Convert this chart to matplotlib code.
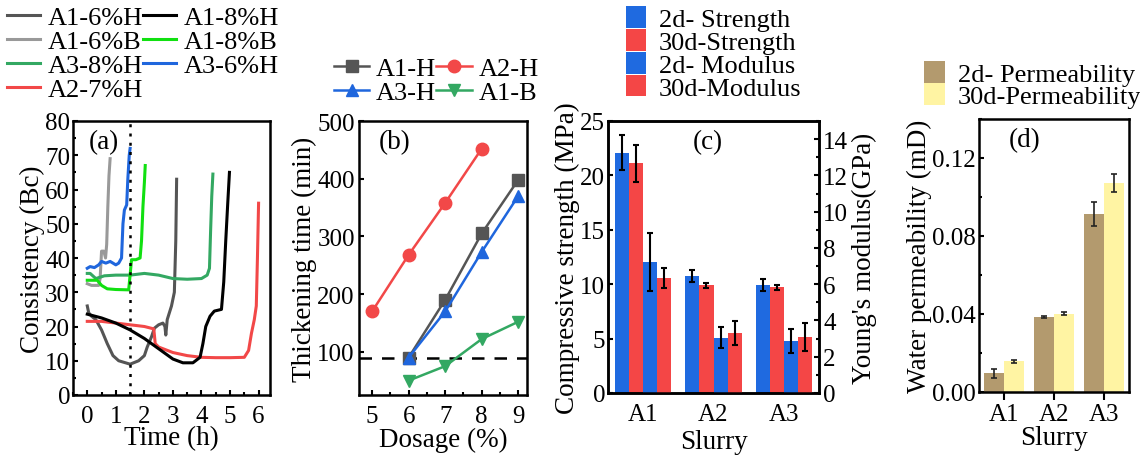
import matplotlib
matplotlib.use("Agg")
import matplotlib.pyplot as plt
from matplotlib.ticker import MultipleLocator, FormatStrFormatter
import numpy as np

plt.rcParams['font.family'] = ['Liberation Serif', 'DejaVu Serif']
plt.rcParams['font.size'] = 18
plt.rcParams['axes.linewidth'] = 1.8

FS_LAB = 19.5
FS_LEG = 19

# ---- (a) consistency curves: (time h, Bc)
a1_6h_t = [0, 0.05, 0.15, 0.3, 0.5, 0.7, 0.9, 1.1, 1.3, 1.5, 1.65, 1.8, 2.0, 2.1, 2.25, 2.35, 2.5, 2.65, 2.72, 2.75, 2.8, 2.95, 3.05, 3.1, 3.13]
a1_6h_y = [26, 24, 23, 22, 19, 15, 11.5, 10, 9.5, 9, 9.5, 10, 11.5, 14, 17, 19.5, 20.5, 21, 20, 17.5, 22, 26, 30, 45, 63]
a1_8h_t = [0, 0.5, 1.0, 1.5, 2.0, 2.5, 3.0, 3.35, 3.7, 3.95, 4.05, 4.15, 4.3, 4.45, 4.7, 4.78, 4.85, 4.92, 4.98]
a1_8h_y = [23.6, 22.5, 21, 19, 16.5, 13.5, 10.5, 9.4, 9.4, 11, 15, 20, 23, 24.5, 25, 33, 45, 56, 65]
a1_6b_t = [0, 0.15, 0.4, 0.45, 0.5, 0.58, 0.64, 0.68, 0.72, 0.76, 0.8]
a1_6b_y = [32.5, 32, 32, 34, 42, 42, 40, 44, 55, 64, 69]
a1_8b_t = [0, 0.35, 0.5, 0.7, 1.0, 1.45, 1.5, 1.55, 1.7, 1.85, 1.9, 1.95, 2.0, 2.03]
a1_8b_y = [33.5, 33.5, 32, 31, 30.8, 30.7, 35, 39.5, 39.5, 40, 45, 55, 62, 67]
a3_8h_t = [0, 0.1, 0.3, 0.6, 1.0, 1.5, 2.0, 2.5, 3.0, 3.5, 4.0, 4.2, 4.28, 4.32, 4.36, 4.4]
a3_8h_y = [35.5, 35.5, 34, 34.8, 35, 35, 35.5, 35, 34, 33.8, 34, 35, 37, 48, 58, 64.5]
a3_6h_t = [0, 0.1, 0.25, 0.4, 0.5, 0.65, 0.8, 1.0, 1.1, 1.2, 1.25, 1.3, 1.38, 1.42, 1.47, 1.5]
a3_6h_y = [37, 37.5, 37.2, 38, 39, 38.5, 39, 38, 38.5, 40, 50, 54, 55.5, 63, 70, 72]
a2_7h_t = [0, 0.5, 1.0, 1.5, 2.0, 2.33, 2.38, 2.5, 3.0, 3.5, 4.0, 4.5, 5.0, 5.5, 5.65, 5.75, 5.85, 5.92, 5.96, 6.0]
a2_7h_y = [21.5, 21.5, 21, 20.5, 20, 19.3, 15, 14, 12.4, 11.5, 11, 10.9, 10.9, 11, 13, 18, 22, 26, 40, 56]

# ---- (b) thickening time
dosage = [5, 6, 7, 8, 9]
b_a1h = [np.nan, 90, 190, 305, 398]
b_a2h = [170, 268, 358, 452, np.nan]
b_a3h = [np.nan, 90, 170, 273, 370]
b_a1b = [np.nan, 50, 75, 122, 152]
b_limit = 90

# ---- (c) strength / modulus
slurry = ['A1', 'A2', 'A3']
str_2d = [22.1, 10.75, 9.95]
str_2d_err = [1.6, 0.55, 0.55]
str_30d = [21.1, 9.9, 9.7]
str_30d_err = [1.7, 0.25, 0.2]
mod_2d = [7.2, 3.06, 2.88]
mod_2d_err = [1.6, 0.57, 0.66]
mod_30d = [6.33, 3.3, 3.09]
mod_30d_err = [0.54, 0.66, 0.75]

# ---- (d) permeability
perm_2d = [0.0095, 0.0383, 0.0913]
perm_2d_err = [0.0025, 0.0005, 0.006]
perm_30d = [0.0157, 0.0402, 0.1073]
perm_30d_err = [0.0007, 0.0007, 0.0045]

W, H = 1140, 456
fig = plt.figure(figsize=(W / 100, H / 100), dpi=100)

def box(l, r, t, b):
    return [l / W, 1 - b / H, (r - l) / W, (b - t) / H]

# ================= (a)
ax1 = fig.add_axes(box(73, 270, 122, 396))
curves = [
    (a1_6h_t, a1_6h_y, '#555555', 'A1-6%H'),
    (a1_6b_t, a1_6b_y, '#999999', 'A1-6%B'),
    (a3_8h_t, a3_8h_y, '#33a862', 'A3-8%H'),
    (a2_7h_t, a2_7h_y, '#f24848', 'A2-7%H'),
    (a1_8h_t, a1_8h_y, '#000000', 'A1-8%H'),
    (a1_8b_t, a1_8b_y, '#11e011', 'A1-8%B'),
    (a3_6h_t, a3_6h_y, '#1f66dd', 'A3-6%H'),
]
for t, y, c, lab in curves:
    ax1.plot(t, y, color=c, lw=2.2, label=lab)
ax1.axvline(1.5, color='black', ls=(0, (1.2, 2.5)), lw=1.8)
ax1.set_xlim(-0.5, 6.4)
ax1.set_ylim(0, 80)
ax1.xaxis.set_major_locator(MultipleLocator(1))
ax1.xaxis.set_minor_locator(MultipleLocator(0.5))
ax1.yaxis.set_major_locator(MultipleLocator(10))
ax1.yaxis.set_minor_locator(MultipleLocator(5))
ax1.tick_params(which='both', direction='in', width=1.5, pad=2)
ax1.tick_params(axis='x', pad=7)
ax1.set_xlabel('Time (h)', fontsize=FS_LAB, labelpad=-1)
ax1.set_ylabel('Consistency (Bc)', fontsize=FS_LAB, labelpad=0)
ax1.text(0.08, 0.97, '(a)', transform=ax1.transAxes, va='top', fontsize=FS_LAB)
fig.legend(*ax1.get_legend_handles_labels(), loc='upper left', bbox_to_anchor=(-0.008, 1.02),
           ncol=2, frameon=False, handlelength=1.25, handletextpad=0.3, columnspacing=0.0,
           labelspacing=0.02, fontsize=FS_LEG, borderaxespad=0.2)

# ================= (b)
ax2 = fig.add_axes(box(359, 527, 122, 396))
ax2.axhline(b_limit, color='black', ls=(0, (5, 4)), lw=1.8)
ax2.plot(dosage, b_a1h, color='#555555', marker='s', ms=9, lw=1.8, label='A1-H')
ax2.plot(dosage, b_a3h, color='#1f66dd', marker='^', ms=9, lw=1.8, label='A3-H')
ax2.plot(dosage, b_a2h, color='#f24848', marker='o', ms=9, lw=1.8, label='A2-H')
ax2.plot(dosage, b_a1b, color='#33a862', marker='v', ms=9, lw=1.8, label='A1-B')
ax2.set_xlim(4.64, 9.24)
ax2.set_ylim(25, 500)
ax2.xaxis.set_major_locator(MultipleLocator(1))
ax2.xaxis.set_minor_locator(MultipleLocator(0.5))
ax2.yaxis.set_major_locator(MultipleLocator(100))
ax2.tick_params(which='both', direction='in', width=1.5, pad=3)
ax2.tick_params(axis='x', pad=7)
ax2.set_xlabel('Dosage (%)', fontsize=FS_LAB, labelpad=0)
ax2.set_ylabel('Thickening time (min)', fontsize=FS_LAB, labelpad=0)
ax2.text(0.12, 0.97, '(b)', transform=ax2.transAxes, va='top', fontsize=FS_LAB)
fig.legend(*ax2.get_legend_handles_labels(), loc='upper left', bbox_to_anchor=(318 / W, 1 - 42 / H),
           ncol=2, frameon=False, handlelength=1.35, handletextpad=0.25, columnspacing=0.0,
           labelspacing=0.0, fontsize=FS_LEG, borderaxespad=0.2)

# ================= (c)
ax3 = fig.add_axes(box(608, 819, 122, 394))
ax3r = ax3.twinx()
x = np.arange(len(slurry))
bw = 0.2
blue, red = '#1f6ae0', '#f44646'
ek = dict(ecolor='black', capsize=2.5, elinewidth=1.5, capthick=1.5)
h1 = ax3.bar(x - 1.5 * bw, str_2d, bw, yerr=str_2d_err, color=blue, error_kw=ek)
h2 = ax3.bar(x - 0.5 * bw, str_30d, bw, yerr=str_30d_err, color=red, error_kw=ek)
h3 = ax3r.bar(x + 0.5 * bw, mod_2d, bw, yerr=mod_2d_err, color=blue, error_kw=ek)
h4 = ax3r.bar(x + 1.5 * bw, mod_30d, bw, yerr=mod_30d_err, color=red, error_kw=ek)
ax3.set_xlim(-0.5, 2.5)
ax3.set_ylim(0, 25)
ax3r.set_ylim(0, 15)
ax3.set_xticks(x)
ax3.set_xticklabels(slurry)
ax3.yaxis.set_major_locator(MultipleLocator(5))
ax3r.yaxis.set_major_locator(MultipleLocator(2))
ax3r.yaxis.set_minor_locator(MultipleLocator(1))
ax3.tick_params(which='both', direction='in', width=1.5, pad=2)
ax3.tick_params(axis='x', length=0, pad=7)
ax3r.tick_params(which='both', direction='in', width=1.5, pad=3)
ax3.set_xlabel('Slurry', fontsize=FS_LAB, labelpad=3)
ax3.set_ylabel('Compressive strength (MPa)', fontsize=FS_LAB, labelpad=0)
ax3r.set_ylabel("Young's modulus(GPa)", fontsize=FS_LAB, labelpad=3)
ax3.text(0.4, 0.97, '(c)', transform=ax3.transAxes, va='top', fontsize=FS_LAB)
fig.legend([h1, h2, h3, h4], ['2d- Strength', '30d-Strength', '2d- Modulus', '30d-Modulus'],
           loc='upper left', bbox_to_anchor=(610 / W, 1.02), frameon=False,
           handlelength=0.75, handleheight=0.9, handletextpad=0.5, labelspacing=-0.08,
           fontsize=FS_LEG, borderaxespad=0.2)

# ================= (d)
ax4 = fig.add_axes(box(979, 1129, 120, 393))
bw2 = 0.4
brown, yellow = '#b39a6e', '#fff4a3'
ek2 = dict(ecolor='#222222', capsize=2, elinewidth=1.2, capthick=1.2)
p1 = ax4.bar(x - bw2 / 2, perm_2d, bw2, yerr=perm_2d_err, color=brown, error_kw=ek2)
p2 = ax4.bar(x + bw2 / 2, perm_30d, bw2, yerr=perm_30d_err, color=yellow, error_kw=ek2)
ax4.set_xlim(-0.5, 2.5)
ax4.set_ylim(0, 0.14)
ax4.set_xticks(x)
ax4.set_xticklabels(slurry)
ax4.yaxis.set_major_locator(MultipleLocator(0.04))
ax4.yaxis.set_minor_locator(MultipleLocator(0.02))
ax4.yaxis.set_major_formatter(FormatStrFormatter('%.2f'))
ax4.tick_params(axis='y', which='both', direction='in', width=1.5, pad=2)
ax4.tick_params(axis='x', direction='out', width=1.5, length=6, pad=2)
ax4.set_xlabel('Slurry', fontsize=FS_LAB, labelpad=0)
ax4.set_ylabel('Water permeability (mD)', fontsize=FS_LAB, labelpad=0)
ax4.text(0.2, 0.97, '(d)', transform=ax4.transAxes, va='top', fontsize=FS_LAB)
fig.legend([p1, p2], ['2d- Permeability', '30d-Permeability'],
           loc='upper left', bbox_to_anchor=(908 / W, 1 - 46 / H), frameon=False,
           handlelength=0.8, handleheight=0.9, handletextpad=0.5, labelspacing=-0.12,
           fontsize=FS_LEG, borderaxespad=0.2)

fig.savefig('out.png', dpi=100)
